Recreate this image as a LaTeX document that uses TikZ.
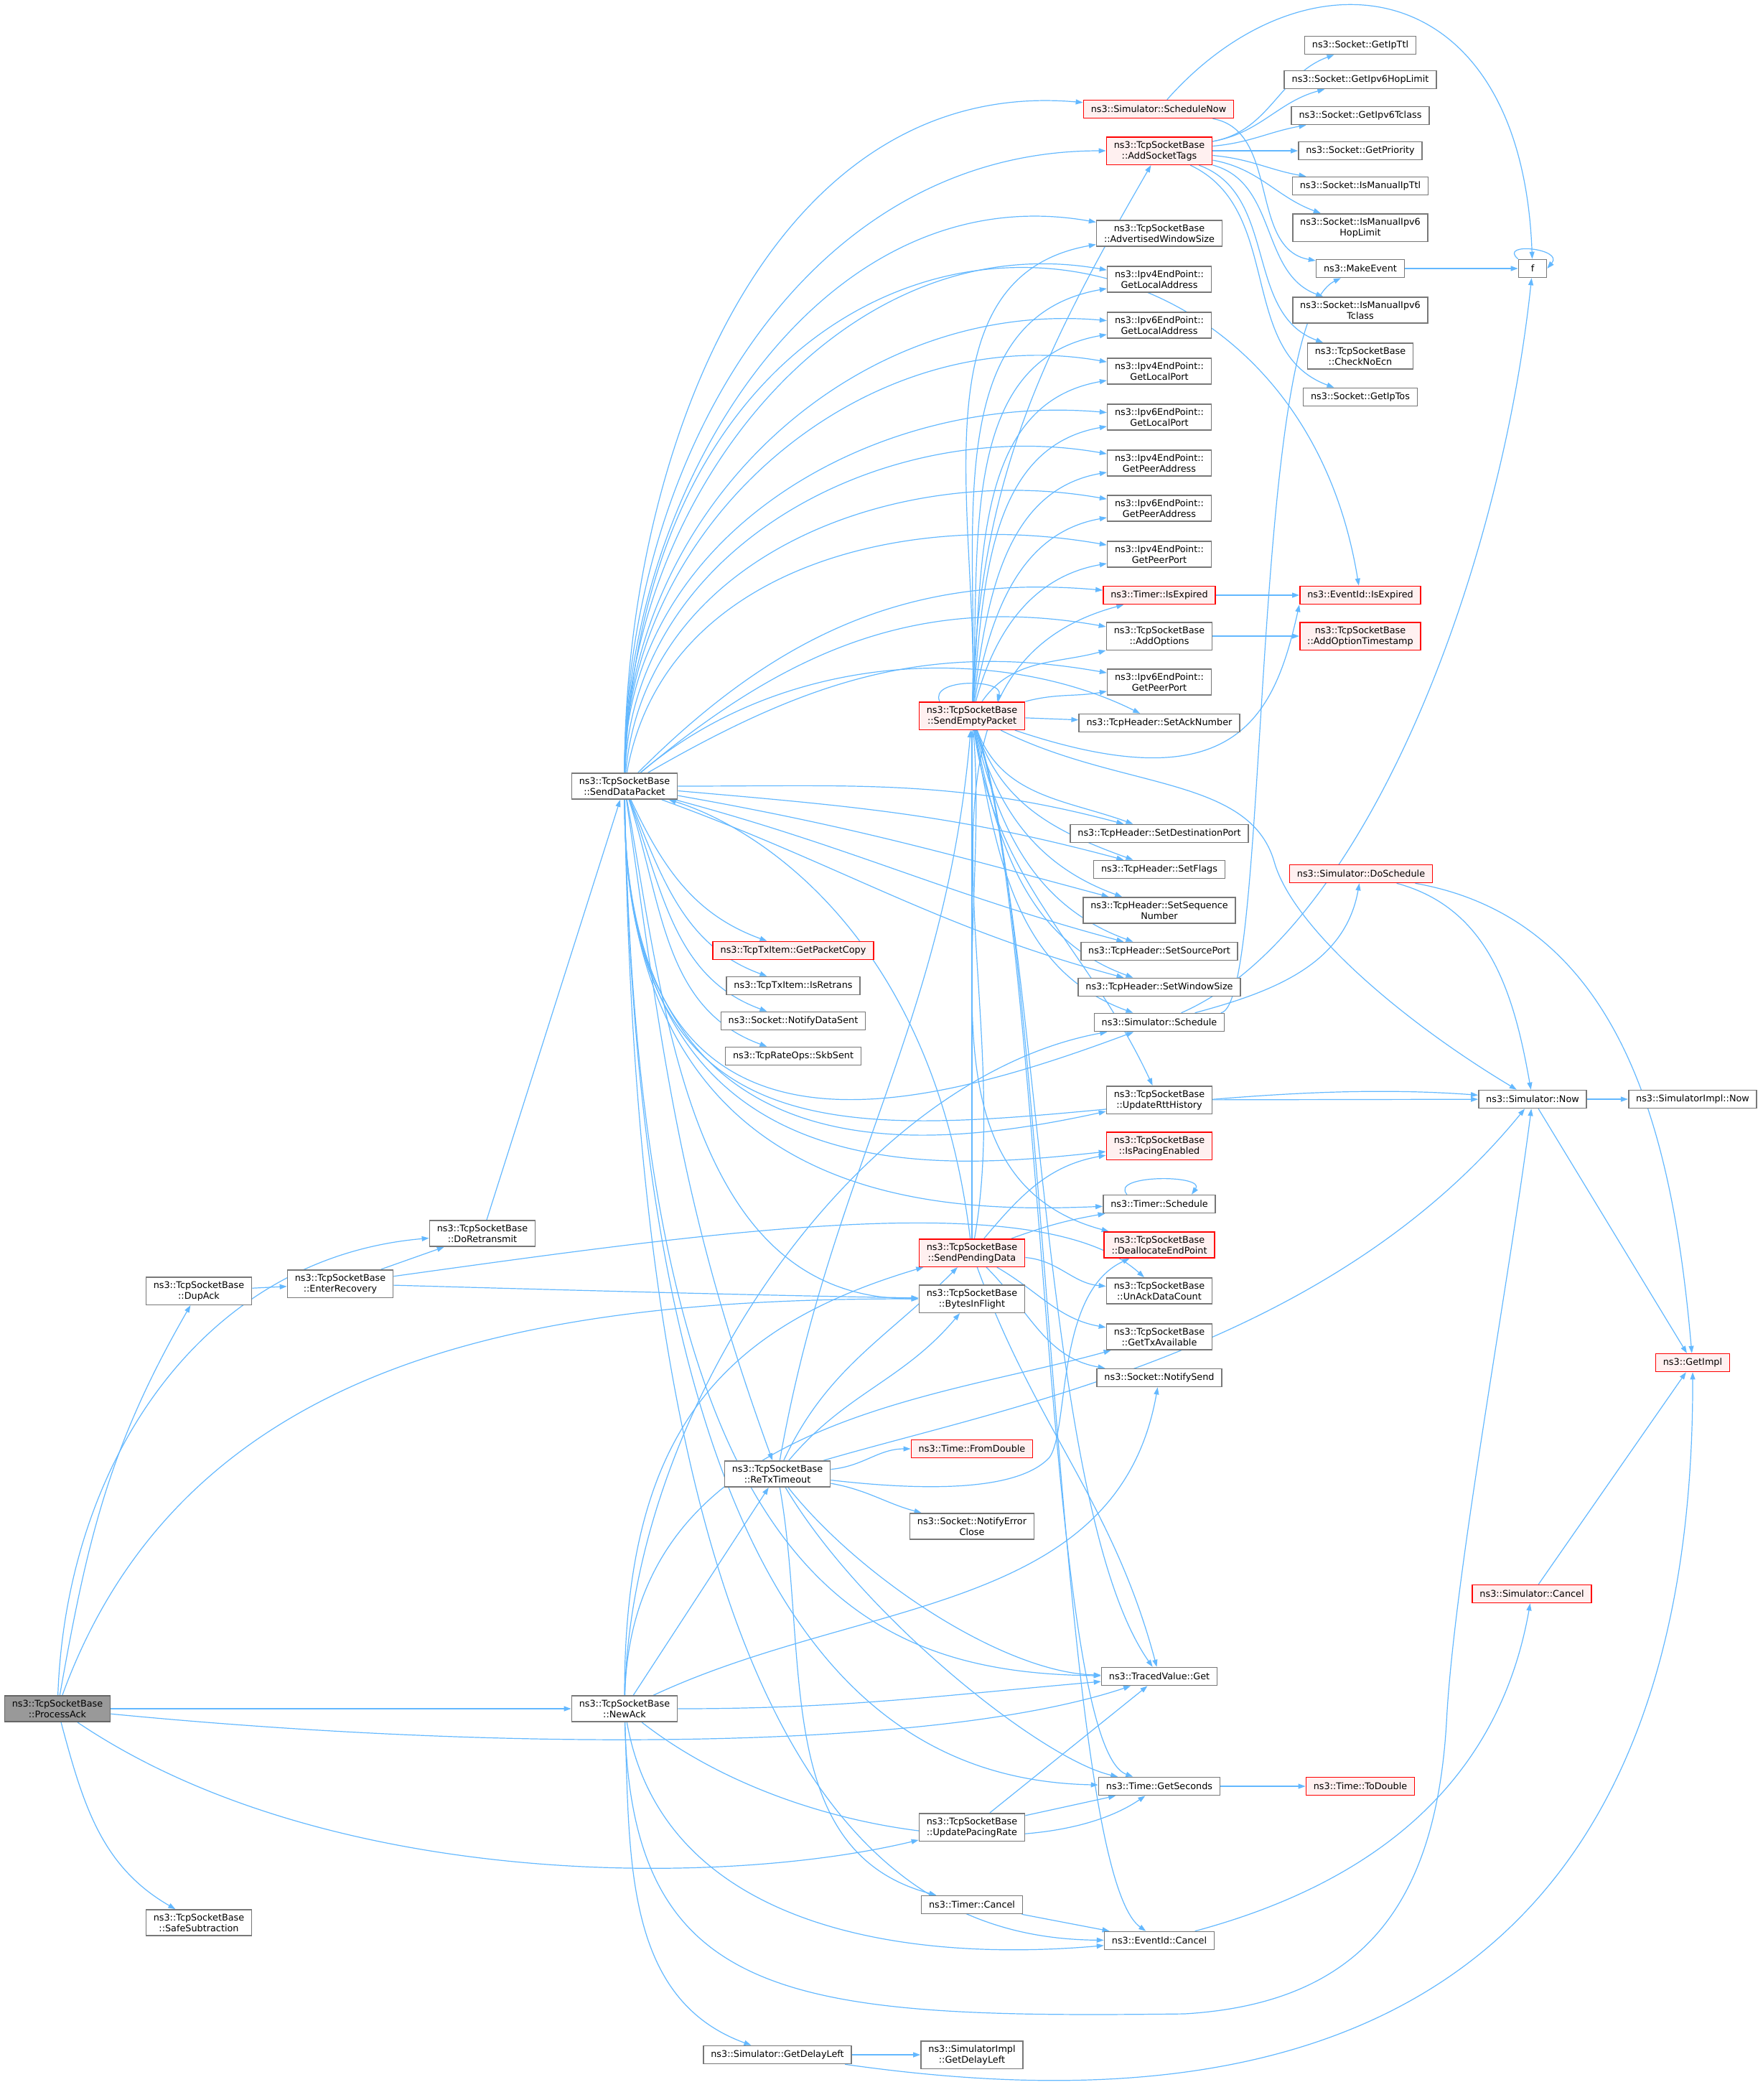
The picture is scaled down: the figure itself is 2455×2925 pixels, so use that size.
\documentclass[tikz,border=0pt]{standalone}
\usepackage{fontspec}
\setmainfont{DejaVu Sans}
\usepackage{tikz}
\usetikzlibrary{arrows.meta}
\definecolor{edgeblue}{RGB}{99,184,255}
\definecolor{boxgray}{RGB}{120,120,120}
\definecolor{truncred}{RGB}{255,0,0}
\definecolor{truncfill}{RGB}{255,240,240}
\definecolor{rootfill}{RGB}{153,153,153}
\definecolor{rootdraw}{RGB}{102,102,102}
\newcommand{\fnsize}{\fontsize{3.2}{3.75}\selectfont}
\pgfdeclarelayer{background}
\pgfsetlayers{background,main}
\tikzstyle{fn} = [rectangle, draw=boxgray, fill=white, line width=0.4pt, align=center, inner xsep=2.6pt, inner ysep=1.4pt, minimum height=6.25pt, font=\fnsize]
\tikzstyle{trunc} = [fn, draw=truncred, fill=truncfill]
\tikzstyle{root} = [fn, draw=rootdraw, fill=rootfill]
\tikzstyle{arrow} = [-{Triangle[length=2.5pt,width=1.75pt]}, draw=edgeblue, line width=0.3pt]

\begin{document}
\begin{tikzpicture}[x=0.25pt,y=0.25pt]
		\useasboundingbox (0,0) rectangle (2455,-2925);
		% callers side
		\node (procack) [root] at (80,-2380) {ns3::TcpSocketBase\\::ProcessAck};
		\node (dupack) [fn] at (277,-1798) {ns3::TcpSocketBase\\::DupAck};
		\node (safesub) [fn] at (277,-2678) {ns3::TcpSocketBase\\::SafeSubtraction};
		\node (enterrec) [fn] at (474,-1788) {ns3::TcpSocketBase\\::EnterRecovery};
		\node (doretr) [fn] at (672,-1718) {ns3::TcpSocketBase\\::DoRetransmit};
		\node (senddata) [fn] at (870,-1095) {ns3::TcpSocketBase\\::SendDataPacket};
		\node (newack) [fn] at (870,-2380) {ns3::TcpSocketBase\\::NewAck};
		\node (pktcopy) [trunc] at (1105,-1324) {ns3::TcpTxItem::GetPacketCopy};
		\node (isretrans) [fn] at (1105,-1373) {ns3::TcpTxItem::IsRetrans};
		\node (datasent) [fn] at (1105,-1422) {ns3::Socket::NotifyDataSent};
		\node (skbsent) [fn] at (1105,-1471) {ns3::TcpRateOps::SkbSent};
		\node (retx) [fn] at (1083,-2053) {ns3::TcpSocketBase\\::ReTxTimeout};
		\node (getdelay) [fn] at (1083,-2862) {ns3::Simulator::GetDelayLeft};
		\node (sendempty) [trunc] at (1354,-997) {ns3::TcpSocketBase\\::SendEmptyPacket};
		\node (sendpend) [trunc] at (1354,-1745) {ns3::TcpSocketBase\\::SendPendingData};
		\node (inflight) [fn] at (1354,-1809) {ns3::TcpSocketBase\\::BytesInFlight};
		\node (fromdbl) [trunc] at (1354,-2018) {ns3::Time::FromDouble};
		\node (errclose) [fn] at (1354,-2126) {ns3::Socket::NotifyError\\Close};
		\node (pacing) [fn] at (1354,-2545) {ns3::TcpSocketBase\\::UpdatePacingRate};
		\node (tcancel) [fn] at (1354,-2653) {ns3::Timer::Cancel};
		\node (implgdl) [fn] at (1354,-2862) {ns3::SimulatorImpl\\::GetDelayLeft};
		% middle column
		\node (schednow) [trunc] at (1614,-152) {ns3::Simulator::ScheduleNow};
		\node (addtags) [trunc] at (1615,-210) {ns3::TcpSocketBase\\::AddSocketTags};
		\node (advwin) [fn] at (1615,-325) {ns3::TcpSocketBase\\::AdvertisedWindowSize};
		\node (v4laddr) [fn] at (1615,-389) {ns3::Ipv4EndPoint::\\GetLocalAddress};
		\node (v6laddr) [fn] at (1615,-453) {ns3::Ipv6EndPoint::\\GetLocalAddress};
		\node (v4lport) [fn] at (1615,-517) {ns3::Ipv4EndPoint::\\GetLocalPort};
		\node (v6lport) [fn] at (1615,-581) {ns3::Ipv6EndPoint::\\GetLocalPort};
		\node (v4paddr) [fn] at (1615,-645) {ns3::Ipv4EndPoint::\\GetPeerAddress};
		\node (v6paddr) [fn] at (1615,-708) {ns3::Ipv6EndPoint::\\GetPeerAddress};
		\node (v4pport) [fn] at (1615,-772) {ns3::Ipv4EndPoint::\\GetPeerPort};
		\node (texpired) [trunc] at (1615,-829) {ns3::Timer::IsExpired};
		\node (addopts) [fn] at (1615,-886) {ns3::TcpSocketBase\\::AddOptions};
		\node (v6pport) [fn] at (1615,-950) {ns3::Ipv6EndPoint::\\GetPeerPort};
		\node (setack) [fn] at (1615,-1007) {ns3::TcpHeader::SetAckNumber};
		\node (setdst) [fn] at (1615,-1161) {ns3::TcpHeader::SetDestinationPort};
		\node (setflags) [fn] at (1615,-1211) {ns3::TcpHeader::SetFlags};
		\node (setseq) [fn] at (1615,-1268) {ns3::TcpHeader::SetSequence\\Number};
		\node (setsrc) [fn] at (1615,-1325) {ns3::TcpHeader::SetSourcePort};
		\node (setwin) [fn] at (1615,-1375) {ns3::TcpHeader::SetWindowSize};
		\node (sched) [fn] at (1615,-1424) {ns3::Simulator::Schedule};
		\node (updrtt) [fn] at (1615,-1532) {ns3::TcpSocketBase\\::UpdateRttHistory};
		\node (ispacing) [trunc] at (1615,-1596) {ns3::TcpSocketBase\\::IsPacingEnabled};
		\node (tsched) [fn] at (1615,-1677) {ns3::Timer::Schedule};
		\node (dealloc) [trunc] at (1615,-1734) {ns3::TcpSocketBase\\::DeallocateEndPoint};
		\node (unack) [fn] at (1615,-1798) {ns3::TcpSocketBase\\::UnAckDataCount};
		\node (txavail) [fn] at (1615,-1862) {ns3::TcpSocketBase\\::GetTxAvailable};
		\node (notifysend) [fn] at (1615,-1919) {ns3::Socket::NotifySend};
		\node (tvget) [fn] at (1615,-2335) {ns3::TracedValue::Get};
		\node (getsec) [fn] at (1615,-2488) {ns3::Time::GetSeconds};
		\node (evcancel) [fn] at (1615,-2703) {ns3::EventId::Cancel};
		% right columns
		\node (getipttl) [fn] at (1895,-63) {ns3::Socket::GetIpTtl};
		\node (getv6hl) [fn] at (1895,-111) {ns3::Socket::GetIpv6HopLimit};
		\node (getv6tc) [fn] at (1895,-161) {ns3::Socket::GetIpv6Tclass};
		\node (getprio) [fn] at (1895,-210) {ns3::Socket::GetPriority};
		\node (manttl) [fn] at (1895,-259) {ns3::Socket::IsManualIpTtl};
		\node (manv6hl) [fn] at (1895,-317) {ns3::Socket::IsManualIpv6\\HopLimit};
		\node (mkevent) [fn] at (1895,-374) {ns3::MakeEvent};
		\node (manv6tc) [fn] at (1895,-432) {ns3::Socket::IsManualIpv6\\Tclass};
		\node (noecn) [fn] at (1895,-496) {ns3::TcpSocketBase\\::CheckNoEcn};
		\node (getiptos) [fn] at (1895,-553) {ns3::Socket::GetIpTos};
		\node (evexpired) [trunc] at (1895,-829) {ns3::EventId::IsExpired};
		\node (addts) [trunc] at (1895,-886) {ns3::TcpSocketBase\\::AddOptionTimestamp};
		\node (dosched) [trunc] at (1896,-1217) {ns3::Simulator::DoSchedule};
		\node (todouble) [trunc] at (1895,-2488) {ns3::Time::ToDouble};
		\node (f) [fn, minimum width=9.75pt] at (2135,-374) {f};
		\node (simnow) [fn] at (2135,-1531) {ns3::Simulator::Now};
		\node (simcancel) [trunc] at (2134,-2220) {ns3::Simulator::Cancel};
		\node (implnow) [fn] at (2358,-1531) {ns3::SimulatorImpl::Now};
		\node (getimpl) [trunc] at (2358,-1898) {ns3::GetImpl};

		\begin{pgfonlayer}{background}
		% ProcessAck
		\draw [arrow] (procack) to[out=88,in=185] (doretr);
		\draw [arrow] (procack) to[out=80,in=240] (dupack);
		\draw [arrow] (procack) to[out=70,in=180] (inflight);
		\draw [arrow] (procack) -- (newack);
		\draw [arrow] (procack) .. controls (700,-2440) and (1300,-2440) .. (tvget);
		\draw [arrow] (procack) .. controls (450,-2630) and (1000,-2630) .. (pacing);
		\draw [arrow] (procack) to[out=-75,in=150] (safesub);
		\draw [arrow] (dupack) -- (enterrec);
		\draw [arrow] (enterrec) -- (doretr);
		\draw [arrow] (enterrec) .. controls (1000,-1715) and (1450,-1650) .. (unack);
		\draw [arrow] (enterrec) .. controls (900,-1800) and (1100,-1805) .. (inflight);
		\draw [arrow] (doretr) -- (senddata);

		% SendDataPacket
		\draw [arrow] (senddata) to[out=90,in=175] (schednow);
		\draw [arrow] (senddata) to[out=90,in=180] (addtags);
		\draw [arrow] (senddata) .. controls (900,-200) and (1790,-180) .. (evexpired);
		\draw [arrow] (senddata) to[out=90,in=170] (advwin);
		\draw [arrow] (senddata) to[out=90,in=170] (v4laddr);
		\draw [arrow] (senddata) to[out=90,in=175] (v6laddr);
		\draw [arrow] (senddata) to[out=90,in=170] (v4lport);
		\draw [arrow] (senddata) to[out=90,in=175] (v6lport);
		\draw [arrow] (senddata) to[out=88,in=170] (v4paddr);
		\draw [arrow] (senddata) to[out=85,in=170] (v6paddr);
		\draw [arrow] (senddata) to[out=80,in=170] (v4pport);
		\draw [arrow] (senddata) to[out=45,in=175] (texpired);
		\draw [arrow] (senddata) to[out=40,in=170] (addopts);
		\draw [arrow] (senddata) to[out=30,in=170] (v6pport);
		\draw [arrow] (senddata) .. controls (1100,-900) and (1400,-900) .. (setack);
		\draw [arrow] (senddata) to[out=0,in=165] (setdst);
		\draw [arrow] (senddata) to[out=-5,in=165] (setflags);
		\draw [arrow] (senddata) to[out=-10,in=165] (setseq);
		\draw [arrow] (senddata) to[out=-15,in=165] (setsrc);
		\draw [arrow] (senddata) to[out=-20,in=165] (setwin);
		\draw [arrow] (senddata) .. controls (870,-1650) and (1250,-1560) .. (sched);
		\draw [arrow] (senddata) .. controls (870,-1660) and (1300,-1600) .. (updrtt);
		\draw [arrow] (senddata) .. controls (870,-1670) and (1300,-1630) .. (ispacing);
		\draw [arrow] (senddata) .. controls (870,-1680) and (1300,-1690) .. (tsched);
		\draw [arrow] (senddata) .. controls (870,-1800) and (1450,-1480) .. (simnow);
		\draw [arrow] (senddata) to[out=-80,in=180] (inflight);
		\draw [arrow] (senddata) to[out=-65,in=160] (pktcopy);
		\draw [arrow] (senddata) to[out=-68,in=160] (isretrans);
		\draw [arrow] (senddata) to[out=-70,in=160] (datasent);
		\draw [arrow] (senddata) to[out=-72,in=160] (skbsent);
		\draw [arrow] (senddata) to[out=-82,in=110] (retx);
		\draw [arrow] (senddata) .. controls (890,-2200) and (1200,-2330) .. (tvget);
		\draw [arrow] (senddata) .. controls (890,-2300) and (1250,-2480) .. (getsec);
		\draw [arrow] (senddata) .. controls (890,-2500) and (1250,-2700) .. (evcancel);

		% SendEmptyPacket
		\draw [arrow] ([xshift=-11.25pt]sendempty.north) .. controls +(-15,32) and +(10,32) .. ([xshift=8.75pt]sendempty.north);
		\draw [arrow] (sendempty) to[out=88,in=240] (addtags);
		\draw [arrow] (sendempty) to[out=88,in=190] (advwin);
		\draw [arrow] (sendempty) to[out=88,in=190] (v4laddr);
		\draw [arrow] (sendempty) to[out=87,in=190] (v6laddr);
		\draw [arrow] (sendempty) to[out=86,in=190] (v4lport);
		\draw [arrow] (sendempty) to[out=85,in=190] (v6lport);
		\draw [arrow] (sendempty) to[out=83,in=190] (v4paddr);
		\draw [arrow] (sendempty) to[out=80,in=190] (v6paddr);
		\draw [arrow] (sendempty) to[out=75,in=190] (v4pport);
		\draw [arrow] (sendempty) to[out=55,in=195] (addopts);
		\draw [arrow] (sendempty) to[out=15,in=190] (v6pport);
		\draw [arrow] (sendempty) -- (setack);
		\draw [arrow] (sendempty) to[out=-70,in=160] (setdst);
		\draw [arrow] (sendempty) to[out=-72,in=160] (setflags);
		\draw [arrow] (sendempty) to[out=-75,in=160] (setseq);
		\draw [arrow] (sendempty) to[out=-77,in=160] (setsrc);
		\draw [arrow] (sendempty) to[out=-79,in=160] (setwin);
		\draw [arrow] (sendempty) to[out=-80,in=160] (sched);
		\draw [arrow] (sendempty) to[out=-82,in=115] (updrtt);
		\draw [arrow] (sendempty) to[out=-85,in=165] (dealloc);
		\draw [arrow] (sendempty) .. controls (1450,-1300) and (1450,-2100) .. (tvget);
		\draw [arrow] (sendempty) .. controls (1455,-1300) and (1455,-2430) .. (getsec);
		\draw [arrow] (sendempty) .. controls (1460,-1300) and (1470,-2600) .. (evcancel);
		\draw [arrow] (sendempty) .. controls (1560,-1100) and (1740,-1080) .. (1775,-1200) .. controls (1800,-1290) and (1950,-1420) .. (simnow);
		\draw [arrow] (sendempty) .. controls (1720,-1120) and (1775,-1000) .. (evexpired.south west);

		% SendPendingData
		\draw [arrow] (sendpend) .. controls (1300,-1300) and (1050,-1150) .. (senddata);
		\draw [arrow] (sendpend) -- (sendempty);
		\draw [arrow] (sendpend) to[out=80,in=195] (texpired);
		\draw [arrow] (sendpend) to[out=50,in=190] (ispacing);
		\draw [arrow] (sendpend) to[out=20,in=190] (tsched);
		\draw [arrow] (sendpend) to[out=-5,in=175] (unack);
		\draw [arrow] (sendpend) to[out=-30,in=170] (txavail);
		\draw [arrow] (sendpend) to[out=-45,in=170] (notifysend);
		\draw [arrow] (sendpend) to[out=-70,in=105] (tvget);

		% ReTxTimeout
		\draw [arrow] (retx) to[out=80,in=-95] (sendempty);
		\draw [arrow] (retx) to[out=65,in=225] (sendpend);
		\draw [arrow] (retx) to[out=50,in=230] (inflight);
		\draw [arrow] (retx) to[out=5,in=180] (fromdbl);
		\draw [arrow] (retx) to[out=-10,in=165] (errclose);
		\draw [arrow] (retx) .. controls (1400,-1960) and (1850,-1880) .. (simnow);
		\draw [arrow] (retx) .. controls (1300,-2078) and (1420,-2075) .. (1462,-2030) .. controls (1490,-1990) and (1470,-1800) .. (dealloc);
		\draw [arrow] (retx) .. controls (1200,-2200) and (1400,-2330) .. (tvget);
		\draw [arrow] (retx) .. controls (1200,-2250) and (1450,-2450) .. (getsec);
		\draw [arrow] (retx) to[out=-80,in=165] (tcancel);

		% NewAck
		\draw [arrow] (newack) -- (retx);
		\draw [arrow] (newack) .. controls (870,-2000) and (1000,-1850) .. (sendpend);
		\draw [arrow] (newack) .. controls (880,-1950) and (1200,-1500) .. (sched);
		\draw [arrow] (newack) .. controls (880,-1980) and (1300,-1950) .. (txavail);
		\draw [arrow] (newack) to[out=25,in=-100] (notifysend);
		\draw [arrow] (newack) to[out=0,in=185] (tvget);
		\draw [arrow] (newack) .. controls (1100,-2560) and (1450,-2600) .. (getsec);
		\draw [arrow] (newack) to[out=-80,in=185] (evcancel);
		\draw [arrow] (newack) .. controls (880,-2790) and (1100,-2812) .. (1650,-2805) .. controls (1900,-2790) and (2000,-2650) .. (2015,-2400) .. controls (2025,-2200) and (2100,-1800) .. (simnow);
		\draw [arrow] (newack) to[out=-88,in=160] (getdelay);

		% leaves
		\draw [arrow] (getdelay) -- (implgdl);
		\draw [arrow] (getdelay) .. controls (1600,-2935) and (2360,-2950) .. (getimpl);
		\draw [arrow] (pacing) -- (tvget);
		\draw [arrow] (pacing) -- (getsec);
		\draw [arrow] (tcancel) -- (evcancel);
		\draw [arrow] (evcancel) to[out=15,in=-100] (simcancel);
		\draw [arrow] (simcancel) -- (getimpl);
		\draw [arrow] (getsec) -- (todouble);
		\draw [arrow] (texpired) -- (evexpired);
		\draw [arrow] (addopts) -- (addts);
		\draw [arrow] (updrtt) -- (simnow);
		\draw [arrow] ([xshift=-11.25pt]tsched.north) .. controls +(-25,28) and +(20,28) .. ([xshift=11.25pt]tsched.north);
		\draw [arrow] (sched) to[out=15,in=-100] (dosched);
		\draw [arrow] (sched) .. controls (1770,-1400) and (1740,-450) .. (mkevent);
		\draw [arrow] (sched) .. controls (1900,-1300) and (2090,-800) .. (f);
		\draw [arrow] (dosched) to[out=-15,in=100] (simnow);
		\draw [arrow] (dosched) to[out=-10,in=95] (getimpl);
		\draw [arrow] (simnow) -- (implnow);
		\draw [arrow] (simnow) -- (getimpl);
		\draw [arrow] (schednow) .. controls (1820,80) and (2120,40) .. (f);
		\draw [arrow] (schednow) to[out=-10,in=170] (mkevent);
		\draw [arrow] (mkevent) -- (f);
		\draw [arrow] (f.north west) .. controls +(-28,24) and +(24,28) .. (f.east);

		% AddSocketTags
		\draw [arrow] (addtags) to[out=10,in=200] (getipttl);
		\draw [arrow] (addtags) to[out=10,in=195] (getv6hl);
		\draw [arrow] (addtags) to[out=5,in=190] (getv6tc);
		\draw [arrow] (addtags) -- (getprio);
		\draw [arrow] (addtags) to[out=-5,in=170] (manttl);
		\draw [arrow] (addtags) to[out=-10,in=160] (manv6hl);
		\draw [arrow] (addtags) to[out=-15,in=160] (manv6tc);
		\draw [arrow] (addtags) to[out=-20,in=160] (noecn);
		\draw [arrow] (addtags) to[out=-25,in=160] (getiptos);
		\end{pgfonlayer}
	\end{tikzpicture}
\end{document}
